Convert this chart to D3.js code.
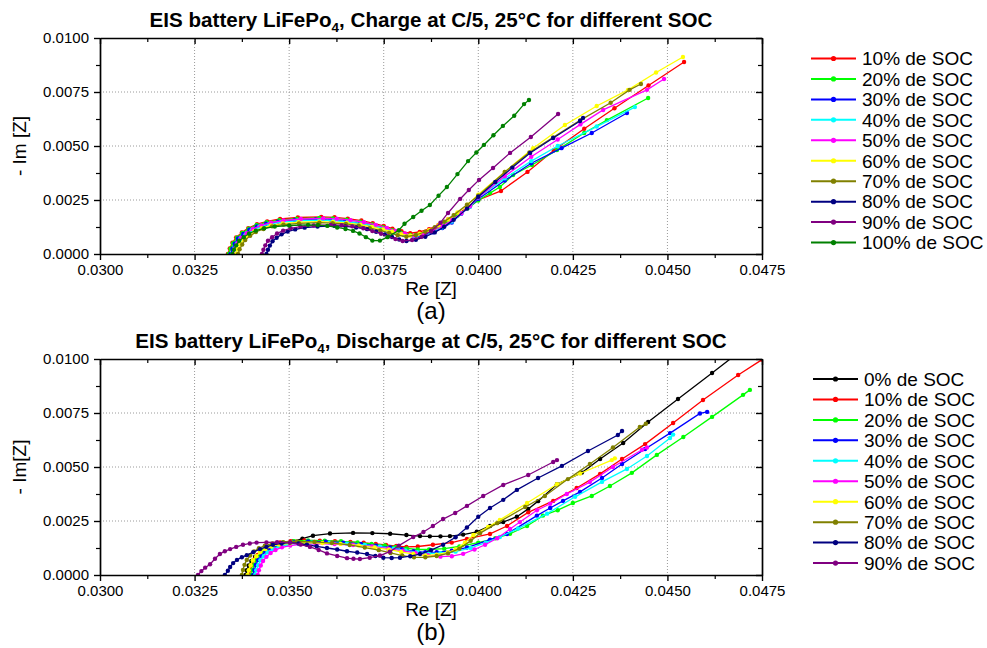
<!DOCTYPE html>
<html><head><meta charset="utf-8">
<script src="https://cdn.jsdelivr.net/npm/d3@7"></script>
<style>body{margin:0;background:#fff}svg{font-family:Arial,"Liberation Sans",sans-serif}</style>
</head><body><svg id="c" width="987" height="648"></svg>
<script>
// ---------- ticks ----------
const X_MAJOR = [0.03,0.0325,0.035,0.0375,0.04,0.0425,0.045,0.0475];
const X_MINOR = [0.03125,0.03375,0.03625,0.03875,0.04125,0.04375,0.04625];
const Y_MAJOR = [0,0.0025,0.005,0.0075,0.01];
const Y_MINOR = [0.00125,0.00375,0.00625,0.00875];

// ---------- charge (a) ----------
const chargeLabels = ["10% de SOC","20% de SOC","30% de SOC","40% de SOC","50% de SOC","60% de SOC","70% de SOC","80% de SOC","90% de SOC","100% de SOC"];
const charge10 = [[.03338,0],[.03343,.00026],[.0335,.00052],[.0336,.00077],[.03375,.001],[.03392,.0012],[.03415,.00138],[.03442,.00151],[.03476,.00162],[.03523,.00169],[.03585,.00172],[.0362,.0017],[.03655,.00164],[.03691,.00155],[.03721,.00143],[.0375,.0013],[.03773,.00117],[.03797,.00105],[.0382,.00096],[.03845,.00102],[.0387,.00115],[.03895,.00135],[.0392,.0016],[.03945,.00185],[.03972,.00215],[.04,.0025],[.0406,.00292],[.0413,.0038],[.042,.0048],[.0428,.0058],[.0436,.00675],[.0445,.0078],[.04544,.00889]];
const charge20 = [[.0334,0],[.03345,.00025],[.03352,.0005],[.03362,.00075],[.03376,.00097],[.03393,.00117],[.03414,.00134],[.0344,.00147],[.03474,.00157],[.0352,.00164],[.0358,.00167],[.03616,.00165],[.03652,.00159],[.03688,.0015],[.03719,.00137],[.03748,.00124],[.03772,.0011],[.03796,.00097],[.0382,.00088],[.03845,.00093],[.0387,.00106],[.03895,.00126],[.0392,.0015],[.03945,.00178],[.03972,.00212],[.04,.00248],[.04031,.00282],[.04057,.0031],[.04092,.00366],[.04142,.00412],[.04208,.00481],[.0428,.0056],[.0434,.0062],[.04449,.00722]];
const charge30 = [[.03345,0],[.0335,.00024],[.03356,.00048],[.03365,.00072],[.03379,.00093],[.03395,.00112],[.03415,.00128],[.03439,.0014],[.03471,.0015],[.03514,.00157],[.0357,.0016],[.03609,.00158],[.03648,.00152],[.03687,.00142],[.03721,.00129],[.03752,.00115],[.03778,.00101],[.03804,.00088],[.0383,.00078],[.03855,.00086],[.0388,.001],[.03905,.0012],[.0393,.00146],[.03955,.00186],[.03978,.0022],[.04,.00255],[.0407,.0034],[.0414,.0042],[.0422,.0049],[.043,.0056],[.04393,.00653]];
const charge40 = [[.0335,0],[.03355,.00024],[.03362,.00047],[.03371,.00071],[.03385,.00091],[.03401,.0011],[.03421,.00126],[.03447,.00138],[.03479,.00148],[.03523,.00154],[.0358,.00157],[.03618,.00155],[.03655,.00149],[.03693,.0014],[.03725,.00128],[.03755,.00115],[.0378,.00102],[.03805,.00089],[.0383,.0008],[.03855,.00088],[.0388,.00103],[.03905,.00124],[.0393,.0015],[.03955,.00188],[.03978,.0022],[.04,.00262],[.0407,.0035],[.0414,.0043],[.0421,.005],[.04313,.0059],[.04414,.0068]];
const charge50 = [[.03352,0],[.03357,.00025],[.03364,.0005],[.03373,.00074],[.03388,.00096],[.03404,.00116],[.03426,.00132],[.03452,.00145],[.03485,.00155],[.03531,.00162],[.0359,.00165],[.03626,.00163],[.03662,.00157],[.03698,.00147],[.03729,.00135],[.03758,.00121],[.03782,.00107],[.03806,.00095],[.0383,.00085],[.03855,.00093],[.0388,.00108],[.03905,.00129],[.0393,.00156],[.03955,.00188],[.03978,.00222],[.04,.00262],[.0407,.0036],[.0414,.0045],[.0421,.0053],[.0427,.006],[.0433,.00667],[.04446,.0076],[.04491,.0081]];
const charge60 = [[.0336,0],[.03364,.00023],[.03371,.00045],[.0338,.00068],[.03393,.00087],[.03408,.00105],[.03428,.0012],[.03452,.00132],[.03483,.00141],[.03525,.00147],[.0358,.0015],[.03616,.00148],[.03652,.00144],[.03688,.00136],[.03719,.00125],[.03748,.00114],[.03772,.00103],[.03796,.00092],[.0382,.00085],[.03845,.00094],[.0387,.0011],[.03895,.00133],[.0392,.0016],[.03945,.00192],[.03972,.00228],[.04,.00275],[.0407,.0038],[.04145,.0049],[.04229,.00597],[.04313,.00685],[.04396,.0076],[.0447,.0084],[.04541,.00912]];
const charge70 = [[.03365,0],[.03369,.00022],[.03376,.00044],[.03384,.00065],[.03397,.00084],[.03412,.00102],[.03432,.00116],[.03455,.00128],[.03485,.00136],[.03526,.00142],[.0358,.00145],[.03615,.00143],[.0365,.00139],[.03684,.00131],[.03713,.0012],[.03741,.00109],[.03764,.00098],[.03787,.00087],[.0381,.0008],[.03835,.00088],[.0386,.00103],[.03885,.00124],[.0391,.0015],[.03935,.0018],[.0397,.00228],[.04,.0027],[.0407,.0038],[.04135,.0047],[.04198,.0054],[.0427,.0062],[.0435,.007],[.044,.0076],[.0443,.00787]];
const charge80 = [[.0344,0],[.03444,.0002],[.03449,.00039],[.03456,.00059],[.03467,.00075],[.0348,.00091],[.03496,.00104],[.03516,.00114],[.03541,.00122],[.03575,.00127],[.0362,.0013],[.03649,.00128],[.03677,.00123],[.03706,.00115],[.0373,.00103],[.03753,.00091],[.03772,.00079],[.03791,.00067],[.0381,.0006],[.03835,.00066],[.0386,.0008],[.03885,.001],[.0391,.00126],[.03935,.00158],[.0397,.0021],[.04,.00265],[.04045,.00333],[.0409,.004],[.04137,.00468],[.04198,.00537],[.04269,.00616],[.04277,.0063]];
const charge90 = [[.03428,0],[.03432,.0002],[.03437,.0004],[.03444,.00061],[.03455,.00078],[.03468,.00095],[.03484,.00108],[.03504,.00119],[.0353,.00127],[.03565,.00132],[.0361,.00135],[.03639,.00133],[.03667,.00128],[.03696,.00119],[.0372,.00106],[.03743,.00094],[.03762,.00081],[.03781,.00069],[.038,.0006],[.03825,.00065],[.0385,.0008],[.03875,.00105],[.039,.00145],[.0392,.0019],[.03952,.00255],[.03975,.00296],[.04002,.00343],[.04039,.00398],[.04084,.00468],[.04139,.00542],[.04211,.00648]];
const charge100 = [[.0335,0],[.03354,.0002],[.0336,.0004],[.03368,.00061],[.0338,.00078],[.03394,.00095],[.03412,.00108],[.03434,.00119],[.03462,.00127],[.035,.00132],[.0355,.00135],[.03576,.00134],[.03601,.0013],[.03627,.00123],[.03649,.00116],[.03669,.00107],[.03686,.00095],[.03703,.00078],[.0372,.00062],[.0374,.00062],[.0376,.00078],[.0379,.0011],[.03805,.0014],[.03828,.00171],[.0385,.002],[.03872,.00227],[.03895,.0027],[.03917,.0031],[.03945,.0037],[.03973,.0043],[.03995,.0047],[.04015,.00505],[.0404,.0055],[.04065,.00593],[.04095,.0064],[.04121,.00694],[.04134,.00713]];

// ---------- discharge (b) ----------
const dischargeLabels = ["0% de SOC","10% de SOC","20% de SOC","30% de SOC","40% de SOC","50% de SOC","60% de SOC","70% de SOC","80% de SOC","90% de SOC"];
const discharge0 = [[.03385,0],[.03388,.00022],[.03393,.00044],[.034,.00065],[.0341,.00085],[.03424,.00103],[.03443,.0012],[.03466,.00135],[.0349,.00146],[.0351,.00155],[.03535,.00168],[.03563,.00182],[.03608,.00192],[.03669,.00195],[.0372,.00194],[.03767,.00191],[.0381,.00185],[.03846,.0018],[.03872,.00179],[.039,.00179],[.03925,.0018],[.0396,.00187],[.03996,.002],[.04031,.00227],[.04066,.00245],[.04102,.0027],[.04132,.00306],[.04158,.00342],[.04208,.0042],[.04274,.00474],[.04322,.00537],[.04383,.00611],[.04449,.00708],[.04528,.00815],[.04618,.00935],[.0471,.0106]];
const discharge10 = [[.03395,0],[.03398,.00024],[.03402,.00048],[.03408,.00072],[.03417,.00093],[.03427,.00112],[.0344,.00128],[.03456,.00141],[.03476,.00151],[.03504,.00157],[.0354,.0016],[.03581,.00159],[.03621,.00157],[.03662,.00153],[.03697,.00149],[.03729,.00144],[.03756,.00139],[.03783,.00134],[.0381,.0013],[.0384,.00132],[.0388,.0014],[.0393,.0015],[.0397,.00167],[.04031,.0019],[.04076,.00227],[.04132,.0029],[.04198,.00343],[.0426,.00403],[.04322,.00468],[.0438,.00537],[.04441,.00606],[.04515,.00704],[.04594,.0081],[.04687,.00926],[.0475,.00997]];
const discharge20 = [[.034,0],[.03403,.00024],[.03408,.00048],[.03414,.00072],[.03423,.00093],[.03433,.00112],[.03447,.00128],[.03463,.00141],[.03484,.00151],[.03513,.00157],[.0355,.0016],[.03594,.00159],[.03637,.00156],[.03681,.00151],[.03718,.00144],[.03753,.00137],[.03782,.0013],[.03811,.00123],[.0384,.00118],[.0387,.00118],[.0391,.00122],[.0395,.00132],[.04,.0015],[.04045,.0017],[.04084,.00191],[.04129,.00227],[.04171,.00275],[.0421,.003],[.0425,.00333],[.043,.00366],[.04348,.00412],[.04406,.00473],[.04472,.00556],[.04542,.00639],[.04618,.00732],[.047,.00834],[.04718,.00857]];
const discharge30 = [[.03405,0],[.03408,.00023],[.03412,.00047],[.03418,.0007],[.03427,.0009],[.03437,.00109],[.0345,.00124],[.03466,.00136],[.03486,.00146],[.03514,.00152],[.0355,.00155],[.03597,.00154],[.03643,.0015],[.0369,.00144],[.0373,.00136],[.03767,.00127],[.03798,.00119],[.03829,.0011],[.0386,.00105],[.0389,.00106],[.0393,.00113],[.0397,.00127],[.04031,.00164],[.04076,.0019],[.04155,.00275],[.0419,.0031],[.04224,.00343],[.04269,.00385],[.04327,.00449],[.0438,.00514],[.04441,.00583],[.04507,.00657],[.04586,.00748],[.04605,.00755]];
const discharge40 = [[.0341,0],[.03413,.00022],[.03418,.00045],[.03424,.00068],[.03433,.00087],[.03443,.00105],[.03457,.0012],[.03473,.00132],[.03494,.00141],[.03523,.00147],[.0356,.0015],[.03607,.00149],[.03653,.00145],[.037,.00139],[.0374,.00131],[.03777,.00122],[.03808,.00114],[.03839,.00105],[.0387,.001],[.039,.00101],[.0394,.00108],[.0398,.00125],[.0402,.0015],[.04057,.00176],[.04105,.00215],[.04182,.00284],[.04256,.00362],[.04327,.00431],[.04393,.00491],[.04446,.00551],[.04507,.00634],[.04515,.0065]];
const discharge50 = [[.03417,0],[.0342,.00022],[.03425,.00044],[.03431,.00065],[.0344,.00084],[.03451,.00102],[.03464,.00116],[.03481,.00128],[.03503,.00136],[.03532,.00142],[.0357,.00145],[.0362,.00143],[.03669,.00139],[.03719,.00132],[.03761,.00122],[.03801,.00112],[.03834,.00102],[.03867,.00092],[.039,.00085],[.0393,.00087],[.0396,.00098],[.0399,.00118],[.04018,.0014],[.0405,.0017],[.04084,.00213],[.0411,.00245],[.04155,.003],[.0419,.0033],[.04234,.00375],[.04295,.0043],[.04356,.005],[.04433,.0058],[.04446,.0059]];
const discharge60 = [[.0339,0],[.03393,.00022],[.03398,.00045],[.03404,.00068],[.03413,.00087],[.03423,.00105],[.03437,.0012],[.03453,.00132],[.03474,.00141],[.03503,.00147],[.0354,.0015],[.03588,.00148],[.03636,.00144],[.03684,.00137],[.03726,.00127],[.03764,.00117],[.03796,.00107],[.03828,.00097],[.0386,.0009],[.0389,.00094],[.0392,.00105],[.0394,.00118],[.03965,.0015],[.03987,.00185],[.04026,.00222],[.04057,.00255],[.04129,.00333],[.04208,.0042],[.04269,.0047],[.04353,.00532],[.04361,.0054]];
const discharge70 = [[.03375,0],[.03378,.00023],[.03382,.00047],[.03388,.0007],[.03397,.0009],[.03407,.00109],[.0342,.00124],[.03436,.00136],[.03456,.00146],[.03484,.00152],[.0352,.00155],[.03567,.00153],[.03613,.00148],[.0366,.00139],[.037,.00127],[.03737,.00115],[.03768,.00102],[.03799,.0009],[.0383,.00082],[.0386,.00082],[.0389,.00088],[.0392,.001],[.0395,.00122],[.0398,.00158],[.04005,.00194],[.0405,.0024],[.04124,.00315],[.04176,.00366],[.04237,.00444],[.04295,.00514],[.04356,.0059],[.04427,.00685],[.04443,.007]];
const discharge80 = [[.0333,0],[.03338,.0002],[.03344,.00037],[.03352,.00055],[.03362,.0007],[.03375,.00082],[.03388,.00092],[.03405,.00106],[.03423,.0012],[.0344,.0013],[.03457,.0014],[.0348,.00146],[.03502,.0015],[.03525,.00146],[.03547,.0014],[.03573,.00133],[.036,.00125],[.03627,.00118],[.03653,.0011],[.0368,.00104],[.03706,.00097],[.03728,.00088],[.03749,.0008],[.03771,.00079],[.03793,.0008],[.0382,.00087],[.03846,.00097],[.03875,.00115],[.03907,.0014],[.0394,.00175],[.0397,.0022],[.04,.0027],[.04031,.0031],[.04066,.00348],[.04102,.00394],[.04158,.00449],[.04221,.00505],[.0429,.00574],[.04369,.00648],[.0438,.00667]];
const discharge90 = [[.03259,0],[.03268,.00018],[.03278,.00034],[.03291,.0005],[.03304,.00075],[.03317,.00097],[.0333,.0011],[.03344,.0012],[.0336,.0013],[.03378,.0014],[.03396,.00146],[.03414,.0015],[.0344,.00151],[.03468,.00152],[.03502,.0015],[.0353,.00141],[.03555,.0013],[.03578,.00116],[.036,.001],[.03627,.00088],[.03653,.00078],[.0367,.00075],[.03687,.00074],[.03713,.0008],[.0374,.0009],[.03766,.00108],[.0379,.00136],[.03828,.00176],[.03855,.00199],[.0388,.00227],[.03907,.00259],[.03939,.00287],[.0397,.0032],[.04013,.00366],[.04066,.00417],[.04132,.00463],[.04198,.00523],[.04208,.00532]];

const chargeColors = ["#ff0000","#00ff00","#0000ff","#00ffff","#ff00ff","#ffff00","#808000","#000080","#800080","#008000"];
const dischargeColors = ["#000000","#ff0000","#00ff00","#0000ff","#00ffff","#ff00ff","#ffff00","#808000","#000080","#800080"];

const svg = d3.select("#c");
const fmt = d3.format(".4f");

function drawPanel(p){
  const x = d3.scaleLinear().domain([0.03,0.0475]).range([100,762]);
  const y = d3.scaleLinear().domain([0,0.01]).range([p.bottom,p.top]);
  const g = svg.append("g");

  // grid
  g.append("g").selectAll("line").data(X_MAJOR.slice(1,-1)).join("line")
    .attr("x1",d=>x(d)).attr("x2",d=>x(d)).attr("y1",p.top).attr("y2",p.bottom)
    .attr("stroke","#9a9a9a").attr("stroke-width",1).attr("stroke-dasharray","1,2");
  g.append("g").selectAll("line").data(Y_MAJOR.slice(1,-1)).join("line")
    .attr("y1",d=>y(d)).attr("y2",d=>y(d)).attr("x1",100).attr("x2",762)
    .attr("stroke","#9a9a9a").attr("stroke-width",1).attr("stroke-dasharray","1,2");

  const cid = "clip"+p.id;
  svg.append("clipPath").attr("id",cid).append("rect")
    .attr("x",100).attr("y",p.top).attr("width",662).attr("height",p.bottom-p.top);
  const line = d3.line().x(d=>x(d[0])).y(d=>y(d[1]));
  const sg = g.append("g").attr("clip-path",`url(#${cid})`);
  p.series.forEach((s,i)=>{
    sg.append("path").datum(s).attr("d",line).attr("fill","none")
      .attr("stroke",p.colors[i]).attr("stroke-width",1.3);
    sg.append("g").selectAll("circle").data(s).join("circle")
      .attr("cx",d=>x(d[0])).attr("cy",d=>y(d[1])).attr("r",2.2).attr("fill",p.colors[i]);
  });

  // axes
  const style = sel => {
    sel.select(".domain").attr("stroke","#000").attr("stroke-width",1.7);
    sel.selectAll(".tick line").attr("stroke","#000").attr("stroke-width",1.4);
    sel.selectAll("text").attr("font-size",15).attr("fill","#000").attr("font-family","Arial, 'Liberation Sans', sans-serif");
  };
  const noDomain = sel => { sel.select(".domain").remove(); sel.selectAll(".tick line").attr("stroke","#000").attr("stroke-width",1.2); };
  g.append("g").attr("transform",`translate(0,${p.bottom})`)
    .call(d3.axisBottom(x).tickValues(X_MINOR).tickFormat("").tickSizeInner(4).tickSizeOuter(0)).call(noDomain);
  g.append("g").attr("transform",`translate(0,${p.top})`)
    .call(d3.axisTop(x).tickValues(X_MINOR).tickFormat("").tickSizeInner(-4).tickSizeOuter(0)).call(noDomain);
  g.append("g").attr("transform",`translate(100,0)`)
    .call(d3.axisLeft(y).tickValues(Y_MINOR).tickFormat("").tickSizeInner(4).tickSizeOuter(0)).call(noDomain);
  g.append("g").attr("transform",`translate(762,0)`)
    .call(d3.axisRight(y).tickValues(Y_MINOR).tickFormat("").tickSizeInner(-4).tickSizeOuter(0)).call(noDomain);

  g.append("g").attr("transform",`translate(0,${p.bottom})`)
    .call(d3.axisBottom(x).tickValues(X_MAJOR).tickFormat(fmt).tickSizeInner(6).tickSizeOuter(0).tickPadding(4)).call(style);
  g.append("g").attr("transform",`translate(0,${p.top})`)
    .call(d3.axisTop(x).tickValues(X_MAJOR).tickFormat("").tickSizeInner(-6).tickSizeOuter(0)).call(style);
  g.append("g").attr("transform",`translate(100,0)`)
    .call(d3.axisLeft(y).tickValues(Y_MAJOR).tickFormat(fmt).tickSizeInner(6).tickSizeOuter(0).tickPadding(5)).call(style);
  g.append("g").attr("transform",`translate(762,0)`)
    .call(d3.axisRight(y).tickValues(Y_MAJOR).tickFormat("").tickSizeInner(-6).tickSizeOuter(0)).call(style);

  // title
  const t = svg.append("text").attr("x",431).attr("y",p.top-11).attr("text-anchor","middle")
    .attr("font-weight","bold").attr("font-size",20.6).attr("fill","#000");
  t.append("tspan").text("EIS battery LiFePo");
  t.append("tspan").attr("font-size",13.5).attr("dy",5).text("4");
  t.append("tspan").attr("dy",-5).text(p.title);

  // axis titles
  svg.append("text").attr("x",431).attr("y",p.bottom+41).attr("text-anchor","middle")
    .attr("font-size",19).attr("fill","#000").text("Re [Z]");
  svg.append("text").attr("x",431).attr("y",p.bottom+65).attr("text-anchor","middle")
    .attr("font-size",24).attr("fill","#000").text(p.letter);
  svg.append("text").attr("transform",`translate(26,${(p.top+p.bottom)/2}) rotate(-90)`)
    .attr("text-anchor","middle").attr("font-size",19).attr("fill","#000").text(p.ylabel);

  // legend
  const lg = svg.append("g");
  p.labels.forEach((lab,i)=>{
    const yy = p.legY + i*20.45;
    lg.append("line").attr("x1",p.legX).attr("x2",p.legX+45).attr("y1",yy).attr("y2",yy)
      .attr("stroke",p.colors[i]).attr("stroke-width",2);
    lg.append("circle").attr("cx",p.legX+22.5).attr("cy",yy).attr("r",2.6).attr("fill",p.colors[i]);
    lg.append("text").attr("x",p.legX+51).attr("y",yy).attr("dy","0.36em")
      .attr("font-size",19).attr("fill","#000").text(lab);
  });
}

drawPanel({id:"a",top:38,bottom:254,title:", Charge at C/5, 25°C for different SOC",letter:"(a)",ylabel:"- Im [Z]",
  series:[charge10,charge20,charge30,charge40,charge50,charge60,charge70,charge80,charge90,charge100],
  colors:chargeColors,labels:chargeLabels,legX:811,legY:58.5});
drawPanel({id:"b",top:359,bottom:575,title:", Discharge at C/5, 25°C for different SOC",letter:"(b)",ylabel:"- Im[Z]",
  series:[discharge0,discharge10,discharge20,discharge30,discharge40,discharge50,discharge60,discharge70,discharge80,discharge90],
  colors:dischargeColors,labels:dischargeLabels,legX:813,legY:379});
</script></body></html>
